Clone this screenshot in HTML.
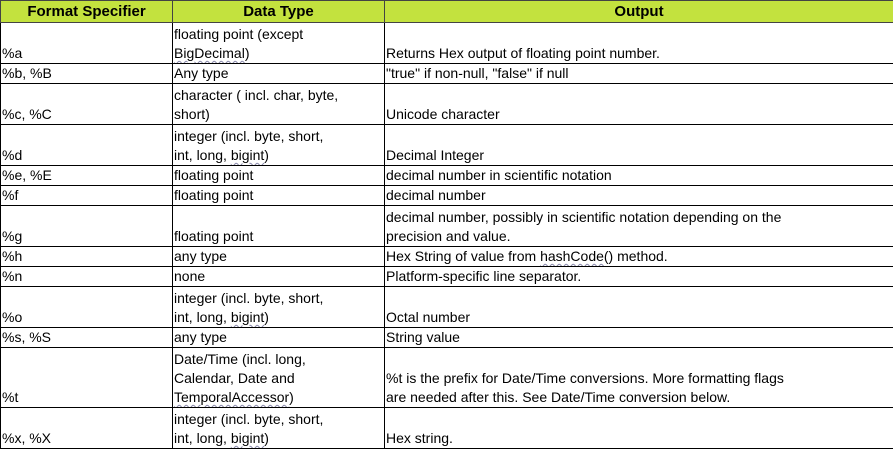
<!DOCTYPE html>
<html><head><style>
body{margin:0;width:893px;height:448px;overflow:hidden;background:#fff;font-family:"Liberation Sans",Arial,sans-serif;}
table{position:absolute;left:0;top:0;border-collapse:collapse;width:893px;table-layout:fixed;font-size:14px;line-height:19px;color:#000;}
td,th{border:1px solid #000;padding:0 1px;vertical-align:bottom;white-space:nowrap;overflow:hidden;}
th{background:#c3e23e;height:21px;font-size:15px;line-height:18px;font-weight:bold;text-align:center;vertical-align:middle;border-color:#444;}
tr.r1 td{height:19px}
tr.r2 td{height:40px}
tr.r3 td{height:59px}
.u{text-decoration:underline wavy #88a;text-underline-offset:2px;text-decoration-thickness:1px}
</style></head><body>
<table>
<colgroup><col style="width:172px"><col style="width:212px"><col style="width:509px"></colgroup>
<tr><th>Format Specifier</th><th>Data Type</th><th>Output</th></tr>
<tr class="r2"><td>%a</td><td>floating point (except<br><span class="u">BigDecimal</span>)</td><td>Returns Hex output of floating point number.</td></tr>
<tr class="r1"><td>%b, %B</td><td>Any type</td><td>"true" if non-null, "false" if null</td></tr>
<tr class="r2"><td>%c, %C</td><td>character ( incl. char, byte,<br>short)</td><td>Unicode character</td></tr>
<tr class="r2"><td>%d</td><td>integer (incl. byte, short,<br>int, long, <span class="u">bigint</span>)</td><td>Decimal Integer</td></tr>
<tr class="r1"><td>%e, %E</td><td>floating point</td><td>decimal number in scientific notation</td></tr>
<tr class="r1"><td>%f</td><td>floating point</td><td>decimal number</td></tr>
<tr class="r2"><td>%g</td><td>floating point</td><td>decimal number, possibly in scientific notation depending on the<br>precision and value.</td></tr>
<tr class="r1"><td>%h</td><td>any type</td><td>Hex String of value from <span class="u">hashCode</span>() method.</td></tr>
<tr class="r1"><td>%n</td><td>none</td><td>Platform-specific line separator.</td></tr>
<tr class="r2"><td>%o</td><td>integer (incl. byte, short,<br>int, long, <span class="u">bigint</span>)</td><td>Octal number</td></tr>
<tr class="r1"><td>%s, %S</td><td>any type</td><td>String value</td></tr>
<tr class="r3"><td>%t</td><td>Date/Time (incl. long,<br>Calendar, Date and<br><span class="u">TemporalAccessor</span>)</td><td>%t is the prefix for Date/Time conversions. More formatting flags<br>are needed after this. See Date/Time conversion below.</td></tr>
<tr class="r2"><td>%x, %X</td><td>integer (incl. byte, short,<br>int, long, <span class="u">bigint</span>)</td><td>Hex string.</td></tr>
</table>
</body></html>
